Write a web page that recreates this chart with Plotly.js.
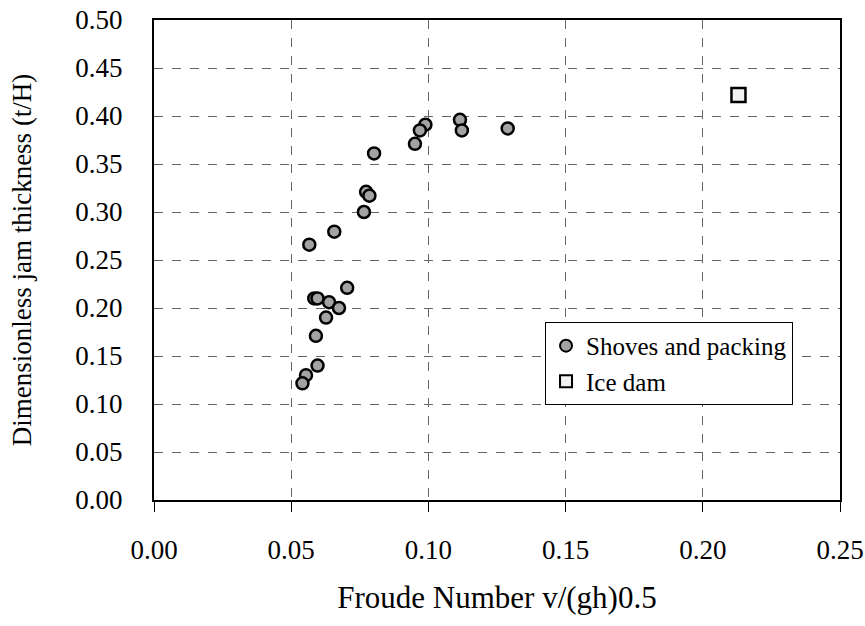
<!DOCTYPE html>
<html>
<head>
<meta charset="utf-8">
<script src="https://cdn.plot.ly/plotly-3.0.1.min.js"></script>
<style>html,body{margin:0;padding:0;background:#fff;}#chart{width:865px;height:626px;}</style>
</head>
<body>
<div id="chart"></div>
<script>
const shovesX = [0.1115, 0.1122, 0.1289, 0.0989, 0.0969, 0.0951, 0.0802, 0.0773, 0.0785, 0.0765, 0.0657, 0.0566, 0.0704, 0.0584, 0.0596, 0.0638, 0.0674, 0.0627, 0.0590, 0.0596, 0.0554, 0.0541];
const shovesY = [0.396, 0.385, 0.387, 0.391, 0.385, 0.371, 0.361, 0.321, 0.317, 0.300, 0.2795, 0.266, 0.221, 0.210, 0.210, 0.206, 0.200, 0.190, 0.171, 0.140, 0.130, 0.1215];
const iceDamX = [0.213];
const iceDamY = [0.422];
const xTicks = [0, 0.05, 0.10, 0.15, 0.20, 0.25];
const yTicks = [0, 0.05, 0.10, 0.15, 0.20, 0.25, 0.30, 0.35, 0.40, 0.45, 0.50];

const font = "'Liberation Serif', 'DejaVu Serif', serif";

const traces = [
  {
    x: shovesX, y: shovesY, type: 'scatter', mode: 'markers', name: 'Shoves and packing',
    marker: {symbol: 'circle', size: 12, color: '#a3a3a3', line: {color: '#000', width: 2.5}}
  },
  {
    x: iceDamX, y: iceDamY, type: 'scatter', mode: 'markers', name: 'Ice dam',
    marker: {symbol: 'square', size: 14, color: '#f2f2f2', line: {color: '#000', width: 2.5}}
  }
];

const layout = {
  width: 865, height: 626,
  margin: {l: 154, r: 25, t: 20, b: 126},
  paper_bgcolor: '#fff', plot_bgcolor: '#fff',
  font: {family: font, color: '#000', size: 27},
  showlegend: true,
  legend: {
    x: 0.570, y: 0.371, xanchor: 'left', yanchor: 'top',
    bgcolor: '#fff', bordercolor: '#000', borderwidth: 1,
    font: {family: font, size: 25, color: '#000'},
    itemsizing: 'constant', tracegroupgap: 0, itemwidth: 30
  },
  xaxis: {
    range: [0, 0.25], tickvals: xTicks, ticktext: xTicks.map(v => v.toFixed(2)),
    showgrid: true, gridcolor: '#666', griddash: 'dash', gridwidth: 1,
    showline: true, mirror: true, linecolor: '#000', linewidth: 2,
    ticks: 'outside', ticklen: 10, tickcolor: '#000', tickwidth: 1,
    ticklabelstandoff: 15, zeroline: false,
    tickfont: {family: font, size: 27},
    title: {text: 'Froude Number v/(gh)0.5', font: {family: font, size: 31}, standoff: 22}
  },
  yaxis: {
    range: [0, 0.5], tickvals: yTicks, ticktext: yTicks.map(v => v.toFixed(2)),
    showgrid: true, gridcolor: '#666', griddash: 'dash', gridwidth: 1,
    showline: true, mirror: true, linecolor: '#000', linewidth: 2,
    ticks: '', ticklabelstandoff: 24, zeroline: false,
    tickfont: {family: font, size: 27},
    title: {text: 'Dimensionless jam thickness (t/H)', font: {family: font, size: 27}, standoff: 36}
  }
};

Plotly.newPlot('chart', traces, layout, {displayModeBar: false, staticPlot: true});
</script>
</body>
</html>
